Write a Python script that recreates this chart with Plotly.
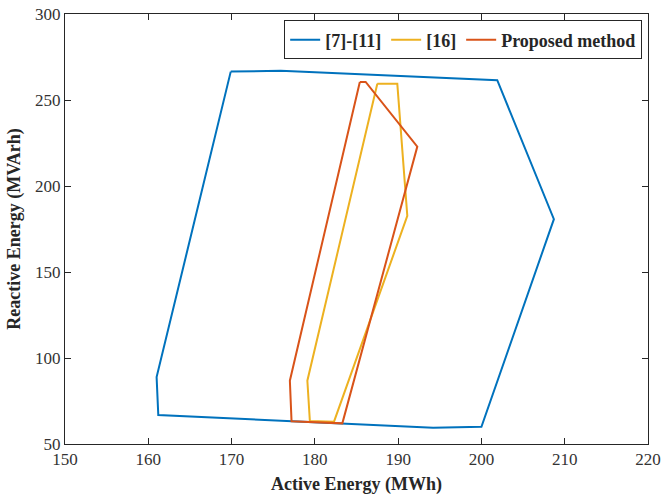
import plotly.graph_objects as go

# [7]-[11] region vertices (closed polygon)
p1_x = [169.9, 175.9, 201.9, 208.7, 200.0, 194.2, 161.2, 161.0, 169.9]
p1_y = [266.5, 267.0, 261.5, 180.7, 60.0, 59.4, 66.9, 88.9, 266.5]

# [16] region vertices
p2_x = [187.5, 189.9, 191.1, 182.3, 179.4, 179.1, 187.5]
p2_y = [259.4, 259.4, 182.6, 63.0, 63.4, 86.8, 259.4]

# Proposed method region vertices
p3_x = [185.4, 186.1, 192.3, 183.3, 177.2, 177.0, 185.4]
p3_y = [260.5, 260.5, 222.9, 62.0, 63.2, 86.8, 260.5]

names = ["[7]-[11]", "[16]", "Proposed method"]
colors = ["#0072BD", "#EDB120", "#D95319"]

x_ticks = [150, 160, 170, 180, 190, 200, 210, 220]
y_ticks = [50, 100, 150, 200, 250, 300]

SERIF = "Liberation Serif, Times New Roman, serif"

fig = go.Figure()
for xs, ys, nm, c in zip([p1_x, p2_x, p3_x], [p1_y, p2_y, p3_y], names, colors):
    fig.add_trace(go.Scatter(x=xs, y=ys, mode="lines", name=nm,
                             line=dict(color=c, width=2)))

axis_common = dict(
    showline=True, linecolor="#262626", linewidth=1, mirror="ticks",
    ticks="inside", ticklen=6, tickcolor="#262626", showgrid=False, zeroline=False,
    automargin=False,
    tickfont=dict(family=SERIF, size=17, color="#333333"),
)
fig.update_layout(
    width=662, height=498,
    margin=dict(l=65, r=14, t=14, b=54),
    paper_bgcolor="white", plot_bgcolor="white",
    font=dict(family=SERIF, color="#262626"),
    xaxis=dict(range=[150, 220], tickvals=x_ticks,
               title=dict(text="<b>Active Energy (MWh)</b>", standoff=8,
                          font=dict(family=SERIF, size=18, color="#262626")),
               **axis_common),
    yaxis=dict(range=[50, 300], tickvals=y_ticks,
               title=dict(text="<b>Reactive Energy (MVArh)</b>", standoff=9,
                          font=dict(family=SERIF, size=18, color="#262626")),
               **axis_common),
    legend=dict(orientation="h", x=0.99, xanchor="right", y=0.985, yanchor="top",
                bordercolor="#262626", borderwidth=1, bgcolor="white",
                font=dict(family=SERIF, size=18, color="#262626", weight="bold"),
                itemwidth=30, tracegroupgap=0),
    showlegend=True,
)
fig.write_html("out.html")
